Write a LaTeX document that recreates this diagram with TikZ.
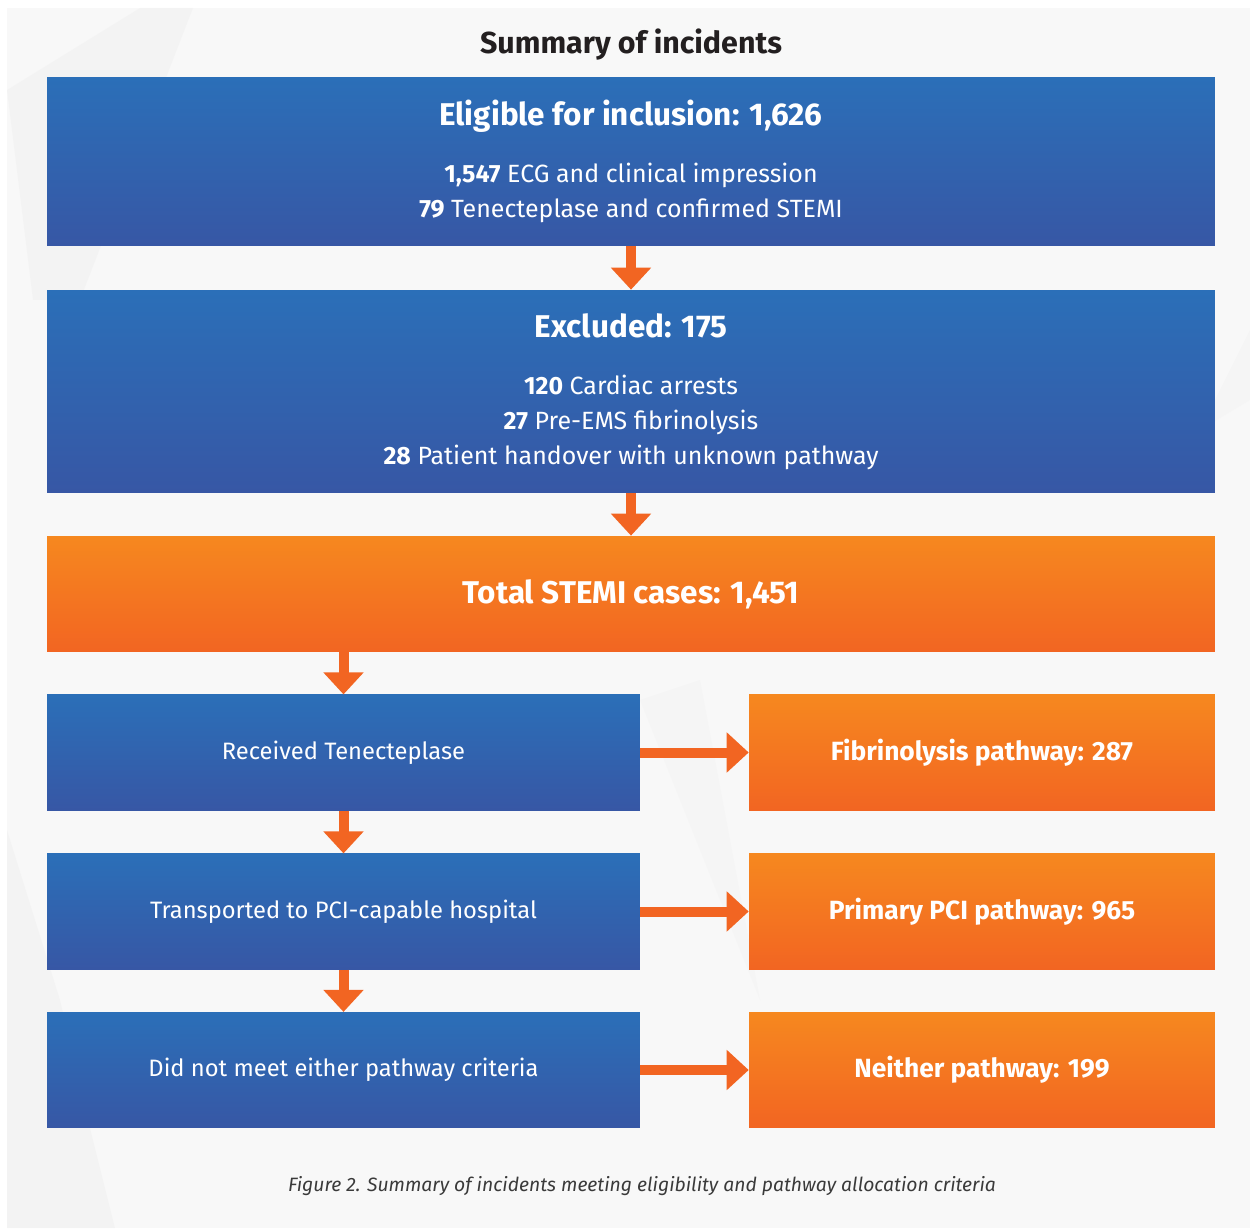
\documentclass[tikz,border=0pt]{standalone}
\usepackage{fontspec}
\setmainfont{Fira Sans}
\usetikzlibrary{arrows.meta,positioning}

\definecolor{bluetop}{HTML}{2B6FB8}
\definecolor{bluebot}{HTML}{3757A5}
\definecolor{orangetop}{HTML}{F6881F}
\definecolor{orangebot}{HTML}{F26522}
\definecolor{arrowcol}{HTML}{F26522}
\definecolor{panelcol}{HTML}{F8F8F8}
\definecolor{shadecol}{HTML}{F1F1F1}
\definecolor{titlecol}{HTML}{231F20}
\definecolor{captioncol}{HTML}{3A3A3A}

\newcommand{\headfont}{\bfseries\fontsize{17.9}{20}\selectfont}
\newcommand{\bodyfont}{\fontsize{14.2}{19.9}\selectfont}

\tikzset{
  bluebox/.style={top color=bluetop, bottom color=bluebot, text=white,
    align=center, inner sep=0pt, minimum height=2.31cm},
  orangebox/.style={top color=orangetop, bottom color=orangebot, text=white,
    align=center, inner sep=0pt, minimum height=2.31cm, font=\bfseries\fontsize{15}{18}\selectfont},
  flowarrow/.style={arrowcol, line width=0.2cm, -{Triangle[length=0.44cm,width=0.78cm]}},
}

\begin{document}
\begin{tikzpicture}[x=0.02cm, y=-0.02cm]
  \useasboundingbox (0,0) rectangle (1250,1229);

  % background panel
  \fill[panelcol] (7,8) rectangle (1250,1228);
  \fill[shadecol, opacity=.6] (7,90) -- (140,8) -- (193,8) -- (80,300) -- (33,300) -- cycle;
  \fill[shadecol, opacity=.6] (7,830) -- (60,1000) -- (90,1128) -- (115,1228) -- (7,1228) -- cycle;
  \fill[shadecol, opacity=.4] (1250,330) -- (1250,400) -- (1200,430) -- cycle;
  \fill[shadecol, opacity=.4] (640,700) -- (700,680) -- (760,1000) -- cycle;

  \node[font=\bfseries\fontsize{17.3}{20}\selectfont, text=titlecol] (title) at (631,45) {Summary of incidents};

  % upper boxes
  \node[bluebox, minimum width=23.36cm, minimum height=3.38cm, font=\bodyfont] (elig) at (631,161.5)
    {{\headfont Eligible for inclusion: 1,626}\\[0.44cm]
     \textbf{1,547} ECG and clinical impression\\
     \textbf{79} Tenecteplase and confirmed STEMI};
  \node[bluebox, minimum width=23.36cm, minimum height=4.06cm, font=\bodyfont] (excl) at (631,391.5)
    {{\headfont Excluded: 175}\\[0.44cm]
     \textbf{120} Cardiac arrests\\
     \textbf{27} Pre-EMS fibrinolysis\\
     \textbf{28} Patient handover with unknown pathway};
  \node[orangebox, minimum width=23.36cm, minimum height=2.32cm, font=\headfont] (total) at (631,594)
    {Total STEMI cases: 1,451};

  % pathway rows
  \node[bluebox, minimum width=11.86cm, font=\fontsize{13.5}{17}\selectfont] (tenec) at (343.5,752.5) {Received Tenecteplase};
  \node[orangebox, minimum width=9.32cm] (fibrin) at (982,752.5) {Fibrinolysis pathway: 287};
  \node[bluebox, minimum width=11.86cm, font=\fontsize{13.5}{17}\selectfont] (transp) at (343.5,911.5) {Transported to PCI-capable hospital};
  \node[orangebox, minimum width=9.32cm] (ppci) at (982,911.5) {Primary PCI pathway: 965};
  \node[bluebox, minimum width=11.86cm, font=\fontsize{13.5}{17}\selectfont] (neither) at (343.5,1070) {Did not meet either pathway criteria};
  \node[orangebox, minimum width=9.32cm] (neitherpath) at (982,1070) {Neither pathway: 199};

  \draw[flowarrow] (elig) -- (excl);
  \draw[flowarrow] (excl) -- (total);
  \draw[flowarrow] (tenec.north |- total.south) -- (tenec.north);
  \draw[flowarrow] (tenec) -- (transp);
  \draw[flowarrow] (transp) -- (neither);
  \draw[flowarrow] (tenec) -- (fibrin);
  \draw[flowarrow] (transp) -- (ppci);
  \draw[flowarrow] (neither) -- (neitherpath);

  \node[font=\itshape\fontsize{11}{13}\selectfont, text=captioncol] (caption) at (642,1186)
    {Figure 2. Summary of incidents meeting eligibility and pathway allocation criteria};
\end{tikzpicture}
\end{document}
